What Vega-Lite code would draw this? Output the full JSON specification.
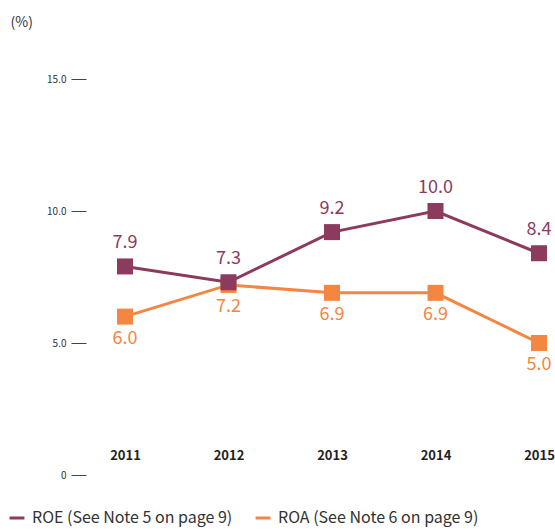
{
  "$schema": "https://vega.github.io/schema/vega-lite/v6.json",
  "width": 469,
  "height": 396,
  "autosize": "none",
  "padding": {"left": 86, "top": 79, "right": 0, "bottom": 54},
  "background": "white",
  "config": {"view": {"stroke": null}, "font": "Noto Sans CJK KR"},
  "data": {"values": [
    {"year": "2011", "series": "ROA (See Note 6 on page 9)", "value": 6.0},
    {"year": "2012", "series": "ROA (See Note 6 on page 9)", "value": 7.2},
    {"year": "2013", "series": "ROA (See Note 6 on page 9)", "value": 6.9},
    {"year": "2014", "series": "ROA (See Note 6 on page 9)", "value": 6.9},
    {"year": "2015", "series": "ROA (See Note 6 on page 9)", "value": 5.0},
    {"year": "2011", "series": "ROE (See Note 5 on page 9)", "value": 7.9},
    {"year": "2012", "series": "ROE (See Note 5 on page 9)", "value": 7.3},
    {"year": "2013", "series": "ROE (See Note 5 on page 9)", "value": 9.2},
    {"year": "2014", "series": "ROE (See Note 5 on page 9)", "value": 10.0},
    {"year": "2015", "series": "ROE (See Note 5 on page 9)", "value": 8.4}
  ]},
  "encoding": {
    "x": {"field": "year", "type": "ordinal", "scale": {"type": "point", "range": [39, 453], "padding": 0},
      "axis": {"title": null, "domain": false, "ticks": false, "labelAngle": 0, "labelPadding": -26, "labelFontSize": 13, "labelFontWeight": "bold", "labelColor": "#222"}},
    "y": {"field": "value", "type": "quantitative", "scale": {"domain": [0, 15], "nice": false},
      "axis": {"values": [0, 5, 10, 15], "grid": false, "domain": false, "tickSize": 15, "tickColor": "#444", "labelPadding": 5, "labelFontSize": 10, "labelColor": "#333",
        "labelExpr": "datum.value == 0 ? '0' : format(datum.value, '.1f')",
        "title": "(%)", "titleAngle": 0, "titleAlign": "left", "titleBaseline": "middle", "titleX": -76, "titleY": -57, "titleFontSize": 14, "titleFontWeight": "normal", "titleColor": "#333"}},
    "color": {"field": "series", "type": "nominal",
      "scale": {"domain": ["ROE (See Note 5 on page 9)", "ROA (See Note 6 on page 9)"], "range": ["#8C3A5D", "#F58642"]},
      "legend": {"title": null, "orient": "none", "direction": "horizontal", "legendX": -78, "legendY": 430, "symbolType": "stroke", "symbolSize": 220, "symbolStrokeWidth": 3, "labelFontSize": 16, "labelColor": "#333", "labelLimit": 400, "columnPadding": 16, "labelOffset": 6}}
  },
  "layer": [
    {"transform": [{"filter": "indexof(datum.series, 'ROA') == 0"}], "layer": [
      {"mark": {"type": "line", "strokeWidth": 3}},
      {"mark": {"type": "square", "size": 256, "opacity": 1, "filled": true}},
      {"mark": {"type": "text", "dy": 22, "fontSize": 18}, "encoding": {"text": {"field": "value", "type": "quantitative", "format": ".1f"}}}
    ]},
    {"transform": [{"filter": "indexof(datum.series, 'ROE') == 0"}], "layer": [
      {"mark": {"type": "line", "strokeWidth": 3}},
      {"mark": {"type": "square", "size": 256, "opacity": 1, "filled": true}},
      {"mark": {"type": "text", "dy": -23, "fontSize": 18}, "encoding": {"text": {"field": "value", "type": "quantitative", "format": ".1f"}}}
    ]}
  ]
}
